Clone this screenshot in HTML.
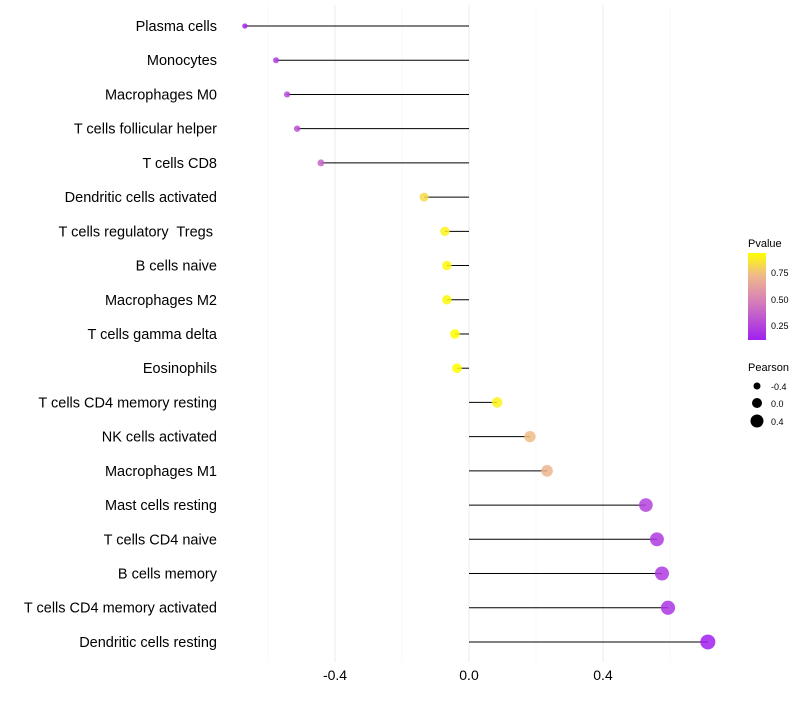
<!DOCTYPE html>
<html><head><meta charset="utf-8"><style>
body{margin:0;background:#fff;font-family:"Liberation Sans",sans-serif;}
text{white-space:pre;}
</style></head><body>
<svg id="chart" width="800" height="700" xmlns="http://www.w3.org/2000/svg">
<defs><linearGradient id="pg" x1="0" y1="1" x2="0" y2="0">
<stop offset="0" stop-color="#A020F0"/><stop offset="0.45" stop-color="#D680B8"/><stop offset="0.75" stop-color="#EFBB88"/><stop offset="1" stop-color="#FFFF00"/>
</linearGradient></defs>
<g id="grid"></g><g id="marks"></g><g id="labels"></g>
<g font-size="10">
<text x="748" y="247" font-size="11">Pvalue</text>
<rect x="748" y="253" width="18" height="87" fill="url(#pg)"/>
<text x="771" y="276" font-size="9">0.75</text><text x="771" y="303" font-size="9">0.50</text><text x="771" y="329" font-size="9">0.25</text>
<text x="748" y="371" font-size="11">Pearson</text>
<circle cx="757" cy="386" r="3.5" fill="#000"/><text x="771" y="390" font-size="9">-0.4</text>
<circle cx="757" cy="403" r="5" fill="#000"/><text x="771" y="407" font-size="9">0.0</text>
<circle cx="757" cy="421" r="6.5" fill="#000"/><text x="771" y="425" font-size="9">0.4</text>
</g>
</svg>
<script>
const categories=["Plasma cells","Monocytes","Macrophages M0","T cells follicular helper","T cells CD8","Dendritic cells activated","T cells regulatory  Tregs ","B cells naive","Macrophages M2","T cells gamma delta","Eosinophils","T cells CD4 memory resting","NK cells activated","Macrophages M1","Mast cells resting","T cells CD4 naive","B cells memory","T cells CD4 memory activated","Dendritic cells resting"];
const pearson=[-0.669,-0.576,-0.543,-0.513,-0.442,-0.134,-0.072,-0.066,-0.066,-0.042,-0.036,0.084,0.182,0.233,0.528,0.561,0.576,0.594,0.713];
const pvalue=[0.13,0.22,0.27,0.3,0.38,0.83,0.9,0.92,0.92,0.95,0.95,0.9,0.74,0.71,0.25,0.22,0.22,0.2,0.12];
const ticks=[-0.4,0.0,0.4];
const minorTicks=[-0.6,-0.2,0.2,0.6];
const xs=v=>469+v*335, ys=i=>26+i*34.22;
const rad=v=>Math.max(1.8,5+3.5*v);
function col(p){const t=(p-0.12)/(0.94-0.12);const st=[[0,[160,32,240]],[0.45,[214,128,184]],[0.75,[239,187,136]],[1,[255,255,0]]];
for(let k=1;k<st.length;k++){if(t<=st[k][0]||k==st.length-1){const a=st[k-1],b=st[k];let f=(t-a[0])/(b[0]-a[0]);f=Math.max(0,Math.min(1,f));return 'rgb('+a[1].map((c,j)=>Math.round(c+(b[1][j]-c)*f)).join(',')+')';}}}
const NS="http://www.w3.org/2000/svg";
function mk(t,a,p){const e=document.createElementNS(NS,t);for(const k in a)e.setAttribute(k,a[k]);p.appendChild(e);return e;}
const G=document.getElementById('grid'),M=document.getElementById('marks'),L=document.getElementById('labels');
minorTicks.forEach(v=>{const l=mk('line',{x1:xs(v),x2:xs(v),y1:5,y2:662,stroke:'#f3f3f3','stroke-width':0.6},G);

});
ticks.forEach(v=>{const l=mk('line',{x1:xs(v),x2:xs(v),y1:5,y2:662,stroke:'#ebebeb','stroke-width':1},G);


const t=mk('text',{x:xs(v),y:680,'text-anchor':'middle','font-size':14,fill:'#000'},L);t.textContent=v.toFixed(1);

});
categories.forEach((c,i)=>{const y=ys(i);
const t=mk('text',{x:217,y:y+5,'text-anchor':'end','font-size':14.5,fill:'#000'},L);t.textContent=c;


const s=mk('line',{x1:xs(0),x2:xs(pearson[i]),y1:y,y2:y,stroke:'#000','stroke-width':1},M);


const d=mk('circle',{cx:xs(pearson[i]),cy:y,r:rad(pearson[i]),fill:col(pvalue[i]),'fill-opacity':0.85},M);

});
</script>
</body></html>
